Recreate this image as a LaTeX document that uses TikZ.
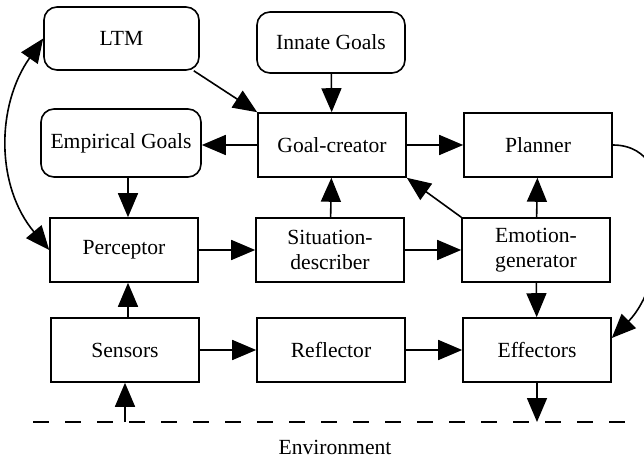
\documentclass[tikz,border=0pt]{standalone}
\usepackage{fontspec}
\setmainfont{Liberation Serif}
\newfontfamily\diagfont{Liberation Serif}
\usetikzlibrary{arrows.meta, positioning}
\tikzset{
box/.style={draw, line width=1.6pt, minimum width=148pt, minimum height=64pt, align=center, inner sep=2pt}, % plain process box
store/.style={box, rounded corners=13pt}, % memory and goal boxes
}

\begin{document}
\begin{tikzpicture}[x=1pt,y=1pt,->,>={Triangle[length=24pt,width=20pt]},line width=1.6pt,node distance=206pt,font=\diagfont\fontsize{21.6}{25}\selectfont]
\useasboundingbox (0,0) rectangle (644,460);
% middle and bottom rows
\node[box] (perc) at (124,210) {Perceptor};
\node[box] (situ) [right of=perc] {Situation-\\describer};
\node[box] (emo) [right of=situ] {Emotion-\\generator};
\node[box] (sens) at (125,110) {Sensors};
\node[box] (refl) [right of=sens] {Reflector};
\node[box] (eff) [right of=refl] {Effectors};
% upper rows
\node[box] (goal) at (332,315) {Goal-creator};
\node[box] (plan) [right of=goal] {Planner};
\node[store, minimum width=160pt, minimum height=68pt] (emp) at (121,317) {Empirical Goals};
\node[store, minimum width=155pt, minimum height=63pt] (ltm) at (121.5,421.5) {LTM};
\node[store, minimum height=61pt] (innate) at (331,417.5) {Innate Goals};
% environment
\coordinate (envl) at (33,38);
\coordinate (envr) at (637,38);
\draw[-, dash pattern=on 16pt off 16pt] (envl) -- (envr);
\node (env) at (335,13) {Environment};
\path ([xshift=-6pt]ltm.south east) edge (goal.north west)
(innate) edge (goal)
(goal.west) edge (goal.west -| emp.east)
(goal) edge (plan)
([xshift=7pt]emp.south) edge ([xshift=7pt]emp.south |- perc.north)
(situ) edge (goal)
(emo.north west) edge (goal.south east)
(emo) edge (plan)
(perc) edge (situ)
(situ) edge (emo)
(emo) edge (eff)
([xshift=3pt]sens.north) edge ([xshift=3pt]sens.north |- perc.south)
(sens) edge (refl)
(refl) edge (eff)
(ltm.west) edge [<->, out=235, in=130] (perc.west)
(plan.east) edge [out=0, in=45] ([yshift=12pt]eff.east)
(sens.south |- envl) edge (sens.south)
(eff.south) edge (eff.south |- envl);
\end{tikzpicture}
\end{document}
